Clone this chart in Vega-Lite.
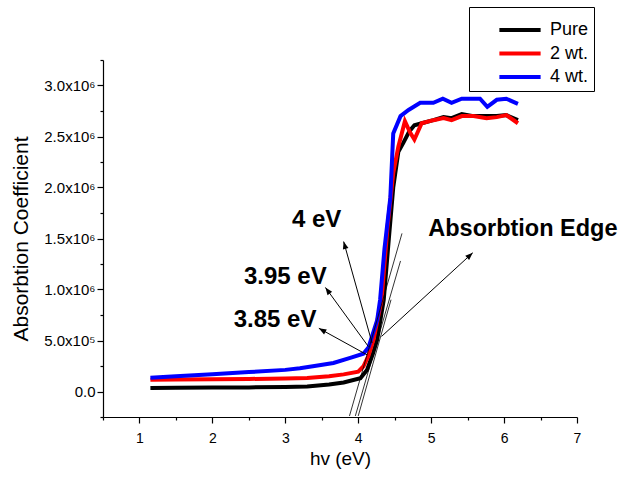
{
  "$schema": "https://vega.github.io/schema/vega-lite/v6.json",
  "width": 474,
  "height": 357,
  "autosize": {"type": "none"},
  "padding": {"left": 103, "top": 60, "right": 41, "bottom": 60},
  "background": "white",
  "config": {
    "view": {"stroke": null},
    "font": "Liberation Sans",
    "axis": {"grid": false, "domainColor": "#000", "tickColor": "#000", "labelColor": "#000", "titleColor": "#000", "titleFontWeight": "normal", "domainWidth": 1.2, "tickWidth": 1.2, "labelFont": "Liberation Sans", "titleFont": "Liberation Sans"}
  },
  "datasets": {
    "curves": [
      {"series": "Pure", "x": 1.15, "y": 35000}, {"series": "Pure", "x": 1.5, "y": 37000}, {"series": "Pure", "x": 2.0, "y": 38000}, {"series": "Pure", "x": 2.5, "y": 40000}, {"series": "Pure", "x": 3.0, "y": 45000}, {"series": "Pure", "x": 3.3, "y": 50000}, {"series": "Pure", "x": 3.6, "y": 68000}, {"series": "Pure", "x": 3.8, "y": 88000}, {"series": "Pure", "x": 4.03, "y": 130000}, {"series": "Pure", "x": 4.12, "y": 210000}, {"series": "Pure", "x": 4.2, "y": 370000}, {"series": "Pure", "x": 4.26, "y": 510000}, {"series": "Pure", "x": 4.35, "y": 900000}, {"series": "Pure", "x": 4.42, "y": 1500000}, {"series": "Pure", "x": 4.48, "y": 2000000}, {"series": "Pure", "x": 4.55, "y": 2350000}, {"series": "Pure", "x": 4.62, "y": 2440000}, {"series": "Pure", "x": 4.7, "y": 2550000}, {"series": "Pure", "x": 4.77, "y": 2610000}, {"series": "Pure", "x": 4.87, "y": 2630000}, {"series": "Pure", "x": 5.03, "y": 2660000}, {"series": "Pure", "x": 5.17, "y": 2690000}, {"series": "Pure", "x": 5.28, "y": 2680000}, {"series": "Pure", "x": 5.42, "y": 2720000}, {"series": "Pure", "x": 5.58, "y": 2700000}, {"series": "Pure", "x": 5.76, "y": 2700000}, {"series": "Pure", "x": 5.9, "y": 2700000}, {"series": "Pure", "x": 6.03, "y": 2710000}, {"series": "Pure", "x": 6.19, "y": 2660000},
      {"series": "2 wt.", "x": 1.15, "y": 115000}, {"series": "2 wt.", "x": 1.5, "y": 117000}, {"series": "2 wt.", "x": 2.0, "y": 120000}, {"series": "2 wt.", "x": 2.5, "y": 123000}, {"series": "2 wt.", "x": 3.0, "y": 127000}, {"series": "2 wt.", "x": 3.3, "y": 132000}, {"series": "2 wt.", "x": 3.6, "y": 150000}, {"series": "2 wt.", "x": 3.8, "y": 168000}, {"series": "2 wt.", "x": 4.0, "y": 195000}, {"series": "2 wt.", "x": 4.07, "y": 245000}, {"series": "2 wt.", "x": 4.14, "y": 350000}, {"series": "2 wt.", "x": 4.21, "y": 510000}, {"series": "2 wt.", "x": 4.32, "y": 900000}, {"series": "2 wt.", "x": 4.4, "y": 1600000}, {"series": "2 wt.", "x": 4.48, "y": 2140000}, {"series": "2 wt.", "x": 4.55, "y": 2400000}, {"series": "2 wt.", "x": 4.64, "y": 2650000}, {"series": "2 wt.", "x": 4.71, "y": 2540000}, {"series": "2 wt.", "x": 4.77, "y": 2470000}, {"series": "2 wt.", "x": 4.87, "y": 2630000}, {"series": "2 wt.", "x": 5.03, "y": 2660000}, {"series": "2 wt.", "x": 5.17, "y": 2680000}, {"series": "2 wt.", "x": 5.28, "y": 2660000}, {"series": "2 wt.", "x": 5.42, "y": 2700000}, {"series": "2 wt.", "x": 5.58, "y": 2700000}, {"series": "2 wt.", "x": 5.76, "y": 2680000}, {"series": "2 wt.", "x": 5.9, "y": 2690000}, {"series": "2 wt.", "x": 6.03, "y": 2710000}, {"series": "2 wt.", "x": 6.19, "y": 2630000},
      {"series": "4 wt.", "x": 1.15, "y": 135000}, {"series": "4 wt.", "x": 1.5, "y": 150000}, {"series": "4 wt.", "x": 2.0, "y": 170000}, {"series": "4 wt.", "x": 2.5, "y": 190000}, {"series": "4 wt.", "x": 3.0, "y": 212000}, {"series": "4 wt.", "x": 3.2, "y": 228000}, {"series": "4 wt.", "x": 3.4, "y": 250000}, {"series": "4 wt.", "x": 3.66, "y": 280000}, {"series": "4 wt.", "x": 3.89, "y": 330000}, {"series": "4 wt.", "x": 4.07, "y": 370000}, {"series": "4 wt.", "x": 4.14, "y": 430000}, {"series": "4 wt.", "x": 4.26, "y": 700000}, {"series": "4 wt.", "x": 4.3, "y": 900000}, {"series": "4 wt.", "x": 4.36, "y": 1400000}, {"series": "4 wt.", "x": 4.44, "y": 1900000}, {"series": "4 wt.", "x": 4.48, "y": 2530000}, {"series": "4 wt.", "x": 4.58, "y": 2700000}, {"series": "4 wt.", "x": 4.69, "y": 2760000}, {"series": "4 wt.", "x": 4.85, "y": 2830000}, {"series": "4 wt.", "x": 5.03, "y": 2830000}, {"series": "4 wt.", "x": 5.16, "y": 2870000}, {"series": "4 wt.", "x": 5.28, "y": 2830000}, {"series": "4 wt.", "x": 5.42, "y": 2870000}, {"series": "4 wt.", "x": 5.67, "y": 2870000}, {"series": "4 wt.", "x": 5.77, "y": 2790000}, {"series": "4 wt.", "x": 5.9, "y": 2860000}, {"series": "4 wt.", "x": 6.03, "y": 2870000}, {"series": "4 wt.", "x": 6.19, "y": 2820000}
    ],
    "tangents": [
      {"x": 3.88, "y": -240000, "x2": 4.6, "y2": 1550000},
      {"x": 3.96, "y": -240000, "x2": 4.58, "y2": 1280000},
      {"x": 4.0, "y": -240000, "x2": 4.45, "y2": 900000}
    ],
    "arrows": [
      {"label": "4 eV", "x": 4.19, "y": 475000, "x2": 3.8, "y2": 1470000},
      {"label": "3.95 eV", "x": 4.14, "y": 440000, "x2": 3.55, "y2": 1020000},
      {"label": "3.85 eV", "x": 4.12, "y": 360000, "x2": 3.46, "y2": 620000},
      {"label": "Absorbtion Edge", "x": 4.32, "y": 540000, "x2": 5.57, "y2": 1360000}
    ],
    "labels": [
      {"text": "4 eV", "kind": "center", "x": 3.43, "y": 1683000},
      {"text": "3.95 eV", "kind": "center", "x": 3.0, "y": 1127000},
      {"text": "3.85 eV", "kind": "center", "x": 2.86, "y": 703000},
      {"text": "Absorbtion Edge", "kind": "left", "x": 4.96, "y": 1595000}
    ]
  },
  "layer": [
    {
      "data": {"name": "curves"},
      "transform": [{"filter": "datum.series == 'Pure'"}],
      "mark": {"type": "line", "strokeWidth": 4, "clip": true},
      "encoding": {
        "x": {"field": "x", "type": "quantitative", "scale": {"domain": [0.5, 7], "nice": false, "zero": false},
          "axis": {"values": [1, 2, 3, 4, 5, 6, 7], "tickSize": 6, "labelFontSize": 14, "labelPadding": 8, "title": "hv (eV)", "titleFontSize": 19, "titlePadding": 4, "labelFlush": false}},
        "y": {"field": "y", "type": "quantitative", "scale": {"domain": [-250000, 3250000], "nice": false, "zero": false},
          "axis": {"values": [0, 500000, 1000000, 1500000, 2000000, 2500000, 3000000], "tickSize": 6, "labelFontSize": 15, "labelPadding": 2, "title": "Absorbtion Coefficient", "titleFontSize": 21, "titlePadding": 12,
            "labelExpr": "datum.value == 0 ? '0.0' : (datum.value < 1000000 ? format(datum.value / 100000, '.1f') + 'x10⁵' : format(datum.value / 1000000, '.1f') + 'x10⁶')"}},
        "color": {"field": "series", "type": "nominal",
          "scale": {"domain": ["Pure", "2 wt.", "4 wt."], "range": ["#000000", "#ff0000", "#0000ff"]},
          "legend": {"orient": "none", "legendX": 366, "legendY": -53, "title": " ", "titleFontSize": 8, "titlePadding": 1, "strokeColor": "#000", "padding": 5, "fillColor": "white",
            "symbolType": "stroke", "symbolSize": 1700, "symbolStrokeWidth": 4, "labelFontSize": 18, "labelFont": "Liberation Sans", "labelColor": "#000", "symbolOffset": 23, "clipHeight": 18, "rowPadding": 5.5, "labelOffset": 7}}
      }
    },
    {
      "data": {"name": "curves"},
      "transform": [{"filter": "datum.series == '2 wt.'"}],
      "mark": {"type": "line", "strokeWidth": 4, "clip": true},
      "encoding": {
        "x": {"field": "x", "type": "quantitative", "axis": null},
        "y": {"field": "y", "type": "quantitative", "axis": null},
        "color": {"field": "series", "type": "nominal"}
      }
    },
    {
      "data": {"name": "curves"},
      "transform": [{"filter": "datum.series == '4 wt.'"}],
      "mark": {"type": "line", "strokeWidth": 4, "clip": true},
      "encoding": {
        "x": {"field": "x", "type": "quantitative", "axis": null},
        "y": {"field": "y", "type": "quantitative", "axis": null},
        "color": {"field": "series", "type": "nominal"}
      }
    },
    {
      "data": {"name": "tangents"},
      "mark": {"type": "rule", "color": "#000", "strokeWidth": 0.8},
      "encoding": {
        "x": {"field": "x", "type": "quantitative", "axis": {"orient": "bottom", "values": [0.5, 1.5, 2.5, 3.5, 4.5, 5.5, 6.5], "tickSize": 3, "labels": false, "domain": false, "title": null}},
        "y": {"field": "y", "type": "quantitative", "axis": {"orient": "left", "values": [-250000, 250000, 750000, 1250000, 1750000, 2250000, 2750000, 3250000], "tickSize": 3, "labels": false, "domain": false, "title": null}},
        "x2": {"field": "x2"},
        "y2": {"field": "y2"}
      }
    },
    {
      "data": {"name": "arrows"},
      "mark": {"type": "rule", "color": "#000", "strokeWidth": 1},
      "encoding": {
        "x": {"field": "x", "type": "quantitative", "axis": null},
        "y": {"field": "y", "type": "quantitative", "axis": null},
        "x2": {"field": "x2"},
        "y2": {"field": "y2"}
      }
    },
    {
      "data": {"name": "arrows"},
      "transform": [{"calculate": "atan2((datum.x2 - datum.x) * 474 / 6.5, (datum.y2 - datum.y) * 357 / 3500000) * 180 / PI", "as": "dir"}],
      "mark": {"type": "point", "shape": "M0,0L0.38,1L-0.38,1Z", "filled": true, "color": "#000", "size": 225, "opacity": 1},
      "encoding": {
        "x": {"field": "x2", "type": "quantitative", "axis": null},
        "y": {"field": "y2", "type": "quantitative", "axis": null},
        "angle": {"field": "dir", "type": "quantitative", "scale": null}
      }
    },
    {
      "data": {"name": "labels"},
      "transform": [{"filter": "datum.kind == 'center'"}],
      "mark": {"type": "text", "font": "Liberation Sans", "fontWeight": "bold", "fontSize": 24, "align": "center", "baseline": "middle", "color": "#000"},
      "encoding": {
        "x": {"field": "x", "type": "quantitative", "axis": null},
        "y": {"field": "y", "type": "quantitative", "axis": null},
        "text": {"field": "text"}
      }
    },
    {
      "data": {"name": "labels"},
      "transform": [{"filter": "datum.kind == 'left'"}],
      "mark": {"type": "text", "font": "Liberation Sans", "fontWeight": "bold", "fontSize": 23.5, "align": "left", "baseline": "middle", "color": "#000"},
      "encoding": {
        "x": {"field": "x", "type": "quantitative", "axis": null},
        "y": {"field": "y", "type": "quantitative", "axis": null},
        "text": {"field": "text"}
      }
    }
  ],
  "resolve": {"axis": {"x": "independent", "y": "independent"}}
}
